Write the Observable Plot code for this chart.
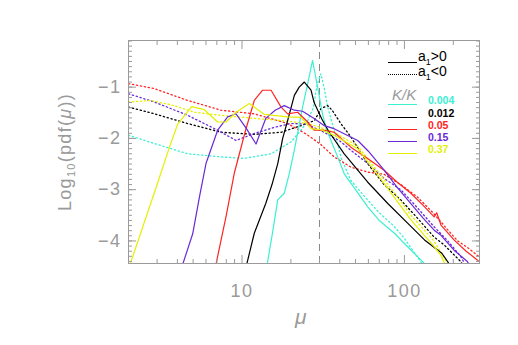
<!DOCTYPE html>
<html><head><meta charset="utf-8">
<script src="https://cdn.jsdelivr.net/npm/d3@7"></script>
<script src="https://cdn.jsdelivr.net/npm/@observablehq/plot@0.6"></script>
<style>
body{margin:0;background:#fff;}
#wrap{position:relative;width:518px;height:345px;font-family:"Liberation Sans",Arial,sans-serif;}
#wrap svg{position:absolute;left:0;top:0;}
#wrap svg [aria-label="x-axis tick label"] text,#wrap svg [aria-label="y-axis tick label"] text{letter-spacing:1.5px;}
.ov{position:absolute;white-space:nowrap;line-height:1;}
.ov .sb{position:relative;top:4px;font-size:9px;line-height:0;}
.ln{position:absolute;width:29px;height:0;}
</style></head><body><div id="wrap"></div>
<script>
// x: mu (log scale), y: log10(pdf(mu))
const cyanPos = [[14.0,-4.6],[14.3,-4.45],[15.3,-3.9],[16.6,-3.2],[18.2,-3.07],[19.5,-2.7],[21,-2.23],[22.3,-1.8],[23.6,-1.39],[25.3,-0.95],[27.2,-0.48],[29.2,-1.0],[31.3,-1.52],[33,-1.8],[35.3,-2.04],[38.8,-2.36],[42.6,-2.69],[50,-3.0],[59.3,-3.33],[70,-3.6],[86.8,-3.85],[100,-4.05],[114.9,-4.24],[132.8,-4.44],[140,-4.55]];
const cyanNeg = [[2,-1.94],[2.89,-2.1],[4.63,-2.3],[7.44,-2.36],[10.3,-2.39],[15.1,-2.3],[20,-2.07],[23,-1.85],[25.4,-1.65],[27.5,-1.4],[29,-0.95],[30.6,-0.74],[32,-1.0],[33.7,-1.39],[36.9,-1.84],[41,-2.4],[46.8,-2.82],[59.3,-3.2],[70,-3.45],[86.8,-3.72],[100,-3.95],[120,-4.31],[132,-4.5]];
const blackPos = [[10.5,-4.6],[10.7,-4.45],[11.9,-3.85],[14,-3.27],[15.3,-2.9],[16.6,-2.49],[17.8,-2.0],[19.1,-1.65],[21,-1.16],[22.5,-1.0],[24.2,-0.9],[26.6,-1.06],[27.8,-1.3],[31,-1.62],[34,-1.85],[42.6,-2.3],[59.3,-2.85],[79,-3.27],[110,-3.72],[133,-3.98],[170,-4.24],[188,-4.44],[195,-4.55]];
const blackNeg = [[2,-1.39],[2.89,-1.52],[4.63,-1.71],[7.44,-1.88],[11.9,-1.92],[17.4,-1.88],[23.1,-1.75],[28,-1.65],[30.6,-1.42],[33.7,-1.36],[35.9,-1.45],[40.6,-1.71],[46.8,-1.97],[59.3,-2.49],[75,-2.9],[95,-3.2],[120,-3.55],[152,-3.92],[176,-4.08],[222,-4.4],[232,-4.5]];
const redPos = [[6.7,-4.6],[6.92,-4.45],[8.0,-3.5],[8.96,-2.68],[10.5,-1.85],[11.9,-1.26],[13.4,-1.06],[15.1,-1.06],[17.4,-1.39],[19.1,-1.52],[22.0,-1.49],[25.4,-1.68],[27.8,-1.84],[32,-1.84],[36.9,-1.88],[46.8,-2.17],[60,-2.4],[75,-2.62],[90,-2.85],[109.6,-3.07],[130,-3.3],[152.5,-3.53],[158,-3.45],[168,-3.69],[202,-3.98],[240,-4.2],[281,-4.37],[300,-4.45]];
const redNeg = [[2,-0.93],[2.89,-1.03],[4.63,-1.26],[7.44,-1.45],[11.9,-1.52],[19.1,-1.71],[25,-1.92],[30.6,-2.12],[36.9,-2.36],[46.8,-2.56],[60,-2.66],[75,-2.7],[95,-2.9],[120,-3.14],[150,-3.45],[193,-3.85],[213,-4.0],[250,-4.15],[286,-4.3],[300,-4.35]];
const purplePos = [[4.2,-4.6],[4.32,-4.45],[4.97,-3.86],[5.5,-3.1],[6.0,-2.49],[7.08,-1.84],[8.16,-1.58],[9.19,-1.52],[10.6,-1.8],[12.2,-2.11],[14.0,-1.61],[16,-1.45],[18.2,-1.36],[21.0,-1.45],[23.6,-1.47],[27.8,-1.61],[32,-1.75],[36.9,-1.81],[51.6,-2.04],[60,-2.25],[75,-2.62],[90,-2.95],[109.6,-3.27],[130,-3.55],[152.5,-3.79],[168,-3.89],[202,-4.18],[244,-4.4],[255,-4.5]];
const purpleNeg = [[2,-1.13],[2.89,-1.29],[4.63,-1.55],[7.08,-1.84],[9.19,-2.04],[12,-1.9],[16,-1.78],[20,-1.71],[25,-1.72],[32,-1.88],[40,-2.05],[46.8,-2.23],[60,-2.5],[75,-2.78],[95,-3.0],[120,-3.35],[152,-3.72],[185,-4.0],[222,-4.3],[240,-4.5]];
const yellowPos = [[2.0,-4.6],[2.05,-4.45],[3.0,-2.9],[3.55,-2.2],[4.02,-1.72],[4.9,-1.38],[5.86,-1.44],[7.08,-1.68],[7.97,-1.68],[9.19,-1.49],[11.1,-1.32],[13.7,-1.53],[19.1,-1.58],[23.1,-1.59],[26.6,-1.81],[30.6,-1.83],[36.9,-1.94],[51.6,-2.2],[75.1,-2.88],[109.6,-3.59],[152.5,-4.11],[168,-4.28],[176,-4.43],[180,-4.55]];
const yellowNeg = [[2,-1.29],[2.75,-1.26],[3.83,-1.36],[5.09,-1.49],[7.44,-1.55],[11.9,-1.61],[17.4,-1.65],[25.4,-1.71],[30,-1.78],[36.9,-1.88],[51.6,-2.15],[75,-2.8],[110,-3.5],[152,-4.0],[185,-4.44],[190,-4.55]];

const kLabels = ["0.004","0.012","0.05","0.15","0.37"];
const kColors = ["#3cf0d2","#000000","#ff2424","#6a28d6","#e4f000"];
const posSeries = [cyanPos, blackPos, redPos, purplePos, yellowPos];
const negSeries = [cyanNeg, blackNeg, redNeg, purpleNeg, yellowNeg];
const xMajor = [10, 100];
const xMinor = [2,3,4,5,6,7,8,9,20,30,40,50,60,70,80,90,200];
const yMajor = [-1,-2,-3,-4];
const yMinor = d3.range(-44, 0).map(v => v / 10);
const muCut = [30];

const axisGray = "#9a9a9a";
const marks = [];
negSeries.forEach((s, i) => marks.push(Plot.line(s, {x: d => d[0], y: d => d[1], stroke: kColors[i], strokeWidth: 1.3, strokeDasharray: "1.3,2.7"})));
posSeries.forEach((s, i) => marks.push(Plot.line(s, {x: d => d[0], y: d => d[1], stroke: kColors[i], strokeWidth: 1.2})));

// inward ticks: draw outward ticks, then shift them inside the frame by their length
function ticksX(anchor, ticks, size) {
  return Plot.axisX({anchor, ticks, tickSize: size, dy: anchor === "bottom" ? -size : size, tickFormat: () => "", label: null, stroke: axisGray});
}
function ticksY(anchor, ticks, size) {
  return Plot.axisY({anchor, ticks, tickSize: size, dx: anchor === "left" ? size : -size, tickFormat: () => "", label: null, stroke: axisGray});
}

const chart = Plot.plot({
  width: 518, height: 345,
  marginLeft: 128, marginRight: 39, marginTop: 40, marginBottom: 82,
  x: {type: "log", domain: [2, 290]},
  y: {domain: [-4.44, -0.09]},
  clip: true,
  style: {background: "transparent", fontFamily: "Liberation Sans, Arial, sans-serif"},
  marks: [
    Plot.ruleX(muCut, {stroke: "#888", strokeDasharray: "7,5", strokeWidth: 1}),
    ...marks,
    Plot.frame({stroke: axisGray}),
    ticksX("bottom", xMinor, 4), ticksX("bottom", xMajor, 8),
    ticksX("top", xMinor, 4), ticksX("top", xMajor, 8),
    ticksY("left", yMinor, 4), ticksY("left", yMajor, 8),
    ticksY("right", yMinor, 4), ticksY("right", yMajor, 8),
    Plot.axisX({anchor: "bottom", ticks: xMajor, tickSize: 0, tickPadding: 21, tickFormat: d => String(d), label: null, fontSize: 18, fill: axisGray}),
    Plot.axisY({anchor: "left", ticks: yMajor, tickSize: 0, tickPadding: 7, tickFormat: d => "\u2212" + Math.abs(d), label: null, fontSize: 18, fill: axisGray})
  ]
});
const wrap = document.getElementById("wrap");
wrap.appendChild(chart);

function ov(html, css) {
  const d = document.createElement("div");
  d.className = "ov";
  d.innerHTML = html;
  Object.assign(d.style, css);
  wrap.appendChild(d);
  return d;
}
function ln(left, top, style) {
  const d = document.createElement("div");
  d.className = "ln";
  d.style.left = left + "px"; d.style.top = top + "px";
  d.style.borderTop = style;
  wrap.appendChild(d);
}
// axis titles
ov("<i>\u03bc</i>", {left: "295px", top: "306px", fontSize: "21px", color: axisGray});
ov("Log<span class='sb' style='font-size:11px'>10</span>(pdf(<i>\u03bc</i>))", {left: "65px", top: "152px", fontSize: "18px", color: axisGray, letterSpacing: "1.3px", transform: "translate(-50%,-50%) rotate(-90deg)"});
// legend: sign of a1
ln(388, 62, "1px solid #000");
ov("a<span class='sb'>1</span>&gt;0", {left: "418px", top: "49px", fontSize: "14px", color: "#000"});
ln(388, 74, "1px dotted #000");
ov("a<span class='sb'>1</span>&lt;0", {left: "418px", top: "64px", fontSize: "14px", color: "#000"});
// legend: K/K
ov("<i>K/K</i>", {left: "392px", top: "87px", fontSize: "15px", color: axisGray});
kLabels.forEach((lab, i) => {
  const y = [104, 117, 129, 141, 153][i];
  ln(388, y, "1.2px solid " + kColors[i]);
  ov(lab, {left: "428px", top: (y - 9) + "px", fontSize: "10.5px", fontWeight: "bold", color: kColors[i]});
});
</script>
</body></html>
